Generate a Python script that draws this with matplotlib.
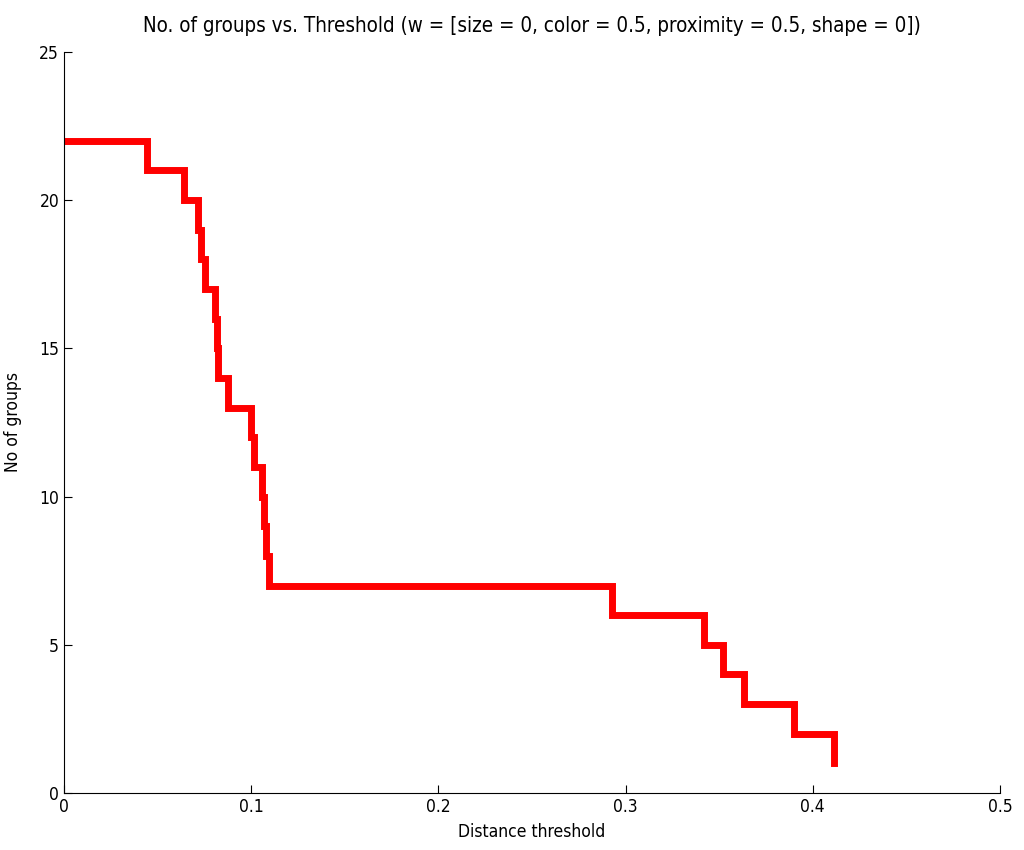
import matplotlib.pyplot as plt

# threshold where each group count begins (step function, post)
thresholds = [0.0, 0.0445, 0.064, 0.0715, 0.073, 0.0755, 0.0805, 0.0815,
              0.0825, 0.0875, 0.100, 0.1015, 0.106, 0.107, 0.108, 0.1095,
              0.293, 0.342, 0.352, 0.3635, 0.390, 0.4115]
groups = [22, 21, 20, 19, 18, 17, 16, 15, 14, 13, 12, 11, 10, 9, 8, 7,
          6, 5, 4, 3, 2, 1]

xticks = [0, 0.1, 0.2, 0.3, 0.4, 0.5]
yticks = [0, 5, 10, 15, 20, 25]

plt.rcParams['font.family'] = ['DejaVu Sans']
plt.rcParams['font.stretch'] = 'condensed'

fig = plt.figure(figsize=(10.24, 8.5), dpi=100)
ax = fig.add_axes([0.0625, 0.067, 0.914, 0.872])

ax.step(thresholds, groups, where='post', color='#ff0000', linewidth=5,
        solid_joinstyle='miter')

ax.set_xlim(0, 0.5)
ax.set_ylim(0, 25)
ax.set_xticks(xticks)
ax.set_xticklabels(['0', '0.1', '0.2', '0.3', '0.4', '0.5'])
ax.set_yticks(yticks)
ax.tick_params(direction='in', length=6, labelsize=12.5)
ax.spines['top'].set_visible(False)
ax.spines['right'].set_visible(False)

ax.set_xlabel('Distance threshold', fontsize=12.5, labelpad=5)
ax.set_ylabel('No of groups', fontsize=12.5, labelpad=12)
ax.set_title('No. of groups vs. Threshold (w = [size = 0, color = 0.5, proximity = 0.5, shape = 0])',
             fontsize=14.8, pad=14)

fig.savefig('out.png', dpi=100)
